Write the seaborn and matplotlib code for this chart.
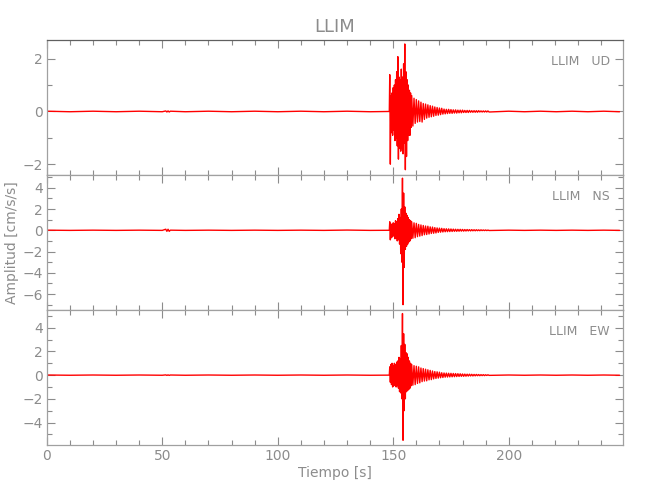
import numpy as np
import pandas as pd
import matplotlib
matplotlib.use('Agg')
import matplotlib.pyplot as plt
import seaborn as sns
from matplotlib.ticker import MultipleLocator

# station / components
station = 'LLIM'
components = ['UD', 'NS', 'EW']

# quiet part before the event (s)
quiet_t = [0, 10, 20, 30, 40, 50, 51.5, 52, 52.5, 53, 53.5,
           60, 70, 80, 90, 100, 110, 120, 130, 140, 148.3]

# amplitudes (cm/s/s), peak by peak
ud_quiet = [0.01, -0.01, 0.01, -0.01, 0.01, -0.01, 0.02, -0.02, 0.02, -0.02, 0.01,
            -0.01, 0.01, -0.01, 0.01, -0.01, 0.01, -0.01, 0.01, -0.01, 0.0]
ud_main = [1.39, -1.99, 0.6, -0.8, 0.7, -0.9, 0.9, -0.7, 1.0, -1.1,
           1.2, -1.0, 1.5, -1.3, 2.07, -1.8, 1.3, -1.4, 1.2, -1.5,
           1.6, -1.4, 1.3, -1.6, 1.8, -1.2, 2.55, -2.2, 1.5, -1.7,
           1.2, -1.1, 1.0, -0.9, 0.8, -0.9, 0.7, -0.6]
ud_coda = [0.6, -0.55, 0.5, -0.45, 0.45, -0.4, 0.4, -0.38, 0.35, -0.4,
           0.3, -0.3, 0.28, -0.25, 0.25, -0.22, 0.22, -0.2, 0.2, -0.18,
           0.17, -0.15, 0.15, -0.14, 0.13, -0.12, 0.12, -0.1]
ud_tail = [0.09, -0.09, 0.08, -0.08, 0.08, -0.07, 0.07, -0.07, 0.06, -0.06,
           0.06, -0.06, 0.05, -0.05, 0.05, -0.05, 0.05, -0.04, 0.04, -0.04,
           0.04, -0.04, 0.04, -0.03, 0.03, -0.03, 0.03, -0.03, 0.03, -0.03,
           0.03, -0.02, 0.02, -0.02, 0.02, -0.02, 0.02, -0.02, 0.02, -0.02]
ud_end = [0.01, -0.01, 0.01, -0.01, 0.01, -0.01, 0.01, -0.01]

ns_quiet = [0.01, -0.01, 0.01, -0.01, 0.01, -0.01, 0.1, -0.1, 0.1, -0.1, 0.01,
            -0.01, 0.01, -0.01, 0.01, -0.01, 0.01, -0.01, 0.02, -0.01, 0.0]
ns_main = [0.8, -0.9, 0.6, -0.7, 0.5, -0.6, 0.7, -0.5, 0.6, -0.8,
           0.9, -0.7, 0.8, -1.0, 1.1, -0.9, 1.5, -1.3, 1.2, -2.2,
           2.0, -3.0, 4.9, -7.0, 3.5, -3.5, 2.2, -1.8, 1.6, -1.5,
           1.4, -1.3, 1.2, -1.1, 1.0, -1.0, 0.9, -0.8]
ns_coda = [0.8, -0.75, 0.7, -0.7, 0.65, -0.6, 0.55, -0.55, 0.5, -0.5,
           0.45, -0.42, 0.4, -0.4, 0.38, -0.35, 0.32, -0.3, 0.3, -0.28,
           0.25, -0.25, 0.22, -0.2, 0.2, -0.18, 0.18, -0.16]
ns_tail = [0.15, -0.14, 0.14, -0.13, 0.13, -0.12, 0.12, -0.11, 0.11, -0.1,
           0.1, -0.1, 0.09, -0.09, 0.09, -0.08, 0.08, -0.08, 0.07, -0.07,
           0.07, -0.06, 0.06, -0.06, 0.06, -0.05, 0.05, -0.05, 0.05, -0.04,
           0.04, -0.04, 0.04, -0.03, 0.03, -0.03, 0.03, -0.03, 0.02, -0.02]
ns_end = [0.01, -0.01, 0.01, -0.01, 0.01, -0.01, 0.01, -0.01]

ew_quiet = [0.01, -0.01, 0.01, -0.01, 0.01, -0.01, 0.02, -0.02, 0.02, -0.02, 0.01,
            -0.01, 0.01, -0.01, 0.01, -0.01, 0.01, -0.01, 0.01, -0.01, 0.0]
ew_main = [0.7, -0.6, 0.9, -0.8, 1.0, -1.0, 0.8, -0.9, 1.0, -0.8,
           0.9, -1.0, 1.1, -0.9, 1.2, -1.1, 1.5, -1.4, 1.4, -1.5,
           2.5, -2.0, 5.2, -5.5, 3.5, -3.0, 2.6, -2.0, 1.9, -1.4,
           1.8, -1.3, 1.5, -1.2, 1.2, -1.1, 1.0, -0.9]
ew_coda = [0.9, -0.85, 0.8, -0.8, 0.75, -0.7, 0.7, -0.65, 0.6, -0.55,
           0.55, -0.5, 0.5, -0.48, 0.45, -0.4, 0.4, -0.38, 0.35, -0.32,
           0.3, -0.28, 0.28, -0.25, 0.25, -0.22, 0.2, -0.2]
ew_tail = [0.18, -0.17, 0.17, -0.16, 0.16, -0.15, 0.15, -0.14, 0.14, -0.13,
           0.13, -0.12, 0.12, -0.11, 0.11, -0.1, 0.1, -0.1, 0.09, -0.09,
           0.08, -0.08, 0.08, -0.07, 0.07, -0.07, 0.06, -0.06, 0.06, -0.05,
           0.05, -0.05, 0.04, -0.04, 0.04, -0.04, 0.03, -0.03, 0.03, -0.02]
ew_end = [0.01, -0.01, 0.01, -0.01, 0.01, -0.01, 0.01, -0.01]

ylims = {'UD': (-2.4, 2.7), 'NS': (-7.5, 5.2), 'EW': (-5.9, 5.5)}
yticks = {'UD': [-2, 0, 2], 'NS': [-6, -4, -2, 0, 2, 4], 'EW': [-4, -2, 0, 2, 4]}


def build_trace(quiet, main, coda, tail, end):
    # sample times of each segment (main: every 0.25 s, coda/tail: 0.5 s)
    t = np.concatenate([
        np.array(quiet_t, dtype=float),
        np.linspace(148.5, 157.75, len(main)),
        np.linspace(158.0, 171.5, len(coda)),
        np.linspace(172.0, 191.5, len(tail)),
        np.linspace(200.0, 248.0, len(end)),
    ])
    a = np.concatenate([quiet, main, coda, tail, end])
    return pd.DataFrame({'t': t, 'amp': a})


traces = {
    'UD': build_trace(ud_quiet, ud_main, ud_coda, ud_tail, ud_end),
    'NS': build_trace(ns_quiet, ns_main, ns_coda, ns_tail, ns_end),
    'EW': build_trace(ew_quiet, ew_main, ew_coda, ew_tail, ew_end),
}

sns.set_style('ticks')
plt.rcParams['font.family'] = ['DejaVu Sans']
grey = '#8c8c8c'

fig, axes = plt.subplots(3, 1, figsize=(6.5, 5), dpi=100, sharex=True)
fig.subplots_adjust(left=0.072, right=0.9585, top=0.92, bottom=0.11, hspace=0)

for ax, comp in zip(axes, components):
    df = traces[comp]
    sns.lineplot(data=df, x='t', y='amp', ax=ax, color='red', lw=1.0,
                 estimator=None, sort=False)
    ax.set_xlim(0, 249.5)
    ax.set_ylim(*ylims[comp])
    ax.set_yticks(yticks[comp])
    ax.xaxis.set_major_locator(MultipleLocator(50))
    ax.xaxis.set_minor_locator(MultipleLocator(10))
    ax.yaxis.set_minor_locator(MultipleLocator(1))
    ax.tick_params(which='both', direction='in', top=True, right=True,
                   colors=grey, labelcolor=grey, labelsize=10, pad=3)
    ax.tick_params(which='major', length=6, width=0.8)
    ax.tick_params(which='minor', length=3.5, width=0.8)
    for sp in ax.spines.values():
        sp.set_color('#a0a0a0')
        sp.set_linewidth(0.9)
    ax.set_xlabel('')
    ax.set_ylabel('')
    ax.text(0.977, 0.84, f'{station}   {comp}', transform=ax.transAxes,
            ha='right', va='center', color=grey, fontsize=9)

axes[0].spines['top'].set_color('#606060')
axes[-1].set_xlabel('Tiempo [s]', color=grey, fontsize=10, labelpad=2)
axes[1].set_ylabel('Amplitud [cm/s/s]', color=grey, fontsize=10, labelpad=2)
fig.suptitle(station, x=0.515, y=0.965, color=grey, fontsize=13)

fig.savefig('out.png', dpi=100)
